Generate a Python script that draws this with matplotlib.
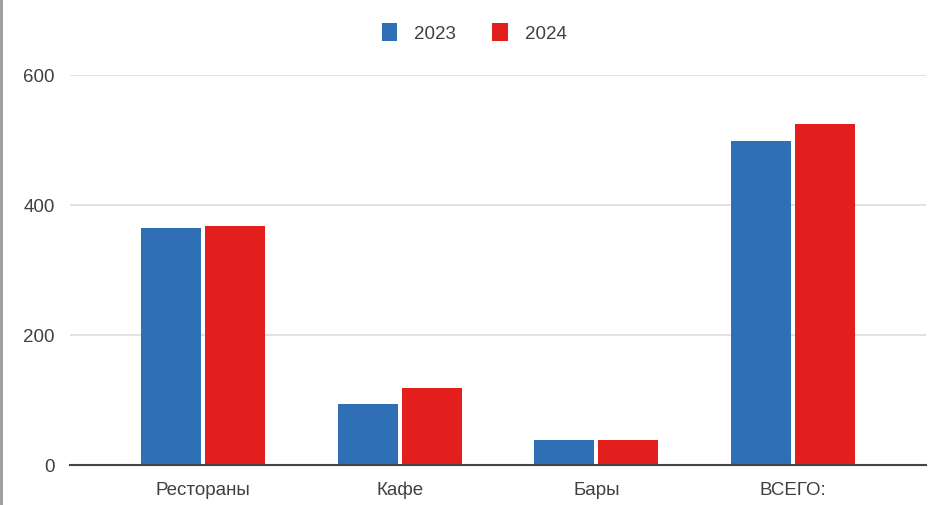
import numpy as np
import matplotlib.pyplot as plt
from matplotlib.lines import Line2D

categories = ['Рестораны', 'Кафе', 'Бары', 'ВСЕГО:']
values_2023 = [365, 94, 39, 498]
values_2024 = [367, 119, 39, 525]
series_labels = ['2023', '2024']
y_ticks = [0, 200, 400, 600]

plt.rcParams['font.family'] = ['Liberation Sans', 'DejaVu Sans']

fig = plt.figure(figsize=(9.43, 5.05), dpi=100)
ax = fig.add_axes([70 / 943, 1 - 465 / 505, 856 / 943, 390 / 505])

x = np.arange(len(categories))
w = 0.305
off = 0.163
ax.bar(x - off, values_2023, width=w, color='#2F6FB6', label=series_labels[0], zorder=3)
ax.bar(x + off, values_2024, width=w, color='#E21F1C', label=series_labels[1], zorder=3)

ax.set_xlim(-0.677, 3.677)
ax.set_ylim(0, 600)
ax.set_yticks(y_ticks)
ax.set_xticks(x)
ax.set_xticklabels(categories)
ax.tick_params(axis='both', length=0, labelsize=13.5, labelcolor='#404040')
ax.tick_params(axis='y', pad=11)
ax.tick_params(axis='x', pad=12)
ax.grid(True, axis='y', color='#dddddd', linewidth=1.2, zorder=0)
for s in ['top', 'right', 'left']:
    ax.spines[s].set_visible(False)
ax.spines['bottom'].set_color('#444444')
ax.spines['bottom'].set_linewidth(1.5)
ax.spines['bottom'].set_zorder(4)

fig.legend(loc='center', bbox_to_anchor=(474 / 943, 1 - 33 / 505), ncol=2,
           frameon=False, fontsize=13.5, handlelength=0.85, handleheight=1.1,
           columnspacing=1.9, handletextpad=0.9, labelcolor='#404040')

# left border of the screenshot
fig.add_artist(Line2D([0.0015, 0.0015], [0, 1], color='#999999', linewidth=2,
                      transform=fig.transFigure))

fig.savefig('out.png', dpi=100)
